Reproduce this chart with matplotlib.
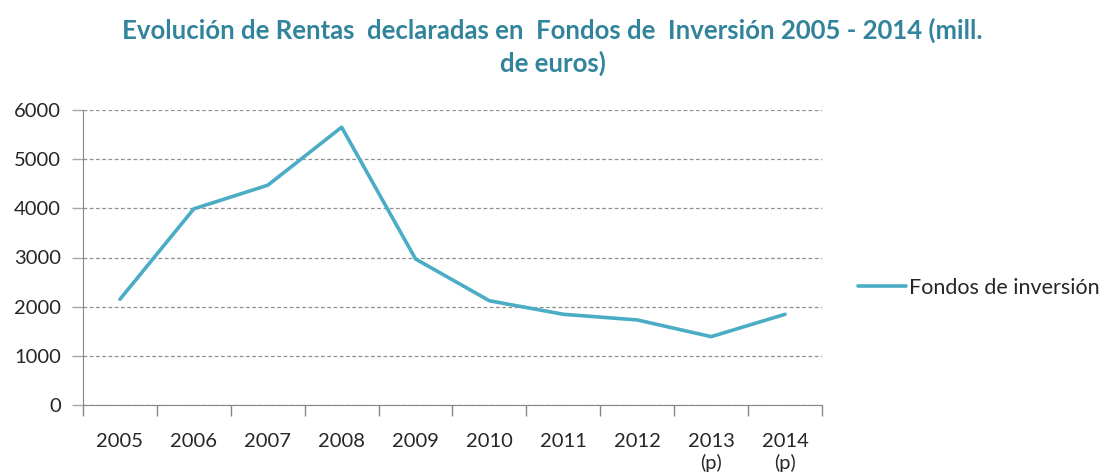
import matplotlib
matplotlib.use("Agg")
import matplotlib.pyplot as plt
from matplotlib.ticker import FixedLocator

years = ["2005", "2006", "2007", "2008", "2009", "2010", "2011", "2012", "2013\n(p)", "2014\n(p)"]
fondos = [2150, 3990, 4470, 5650, 2970, 2120, 1845, 1730, 1390, 1845]
yticks = [0, 1000, 2000, 3000, 4000, 5000, 6000]
series_name = "Fondos de inversión"
title = "Evolución de Rentas  declaradas en  Fondos de  Inversión 2005 - 2014 (mill.\nde euros)"

plt.rcParams['font.family'] = ['Lato', 'DejaVu Sans']

fig = plt.figure(figsize=(11.05, 4.75), dpi=100)
ax = fig.add_axes([83/1105, 1-405/475, (822-83)/1105, (405-110)/475])

x = list(range(len(years)))
line, = ax.plot(x, fondos, color="#4BACC6", lw=2.6, solid_joinstyle="round", solid_capstyle="round", label=series_name)

ax.set_xlim(-0.5, len(years)-0.5)
ax.set_ylim(0, 6000)
ax.set_yticks(yticks)
ax.set_xticks(x)
ax.set_xticklabels(years, fontsize=14.5, color="#262626", linespacing=1.3)
ax.xaxis.set_minor_locator(FixedLocator([i - 0.5 for i in range(len(years)+1)]))
ax.tick_params(axis="x", which="major", length=0, pad=20)
ax.tick_params(axis="x", which="minor", length=8, color="#868686", width=1)
ax.tick_params(axis="y", labelsize=14.5, labelcolor="#262626", length=8, color="#A6A6A6", width=1, pad=8)

ax.grid(axis="y", linestyle=(0, (3, 2)), color="#909090", lw=0.9)
ax.set_axisbelow(True)
for s in ["top", "right"]:
    ax.spines[s].set_visible(False)
ax.spines["left"].set_color("#868686")
ax.spines["bottom"].set_color("#868686")

fig.text(0.5, 1-47/475, title, ha="center", va="center", fontsize=18.5, fontweight="bold",
         color="#31849B", linespacing=1.35)

fig.legend(handles=[line], loc="center left", bbox_to_anchor=(839/1105, 1-288/475), frameon=False,
           fontsize=15.5, handlelength=2.2, handletextpad=0.15, labelcolor="#262626")

fig.savefig("out.png", dpi=100)
